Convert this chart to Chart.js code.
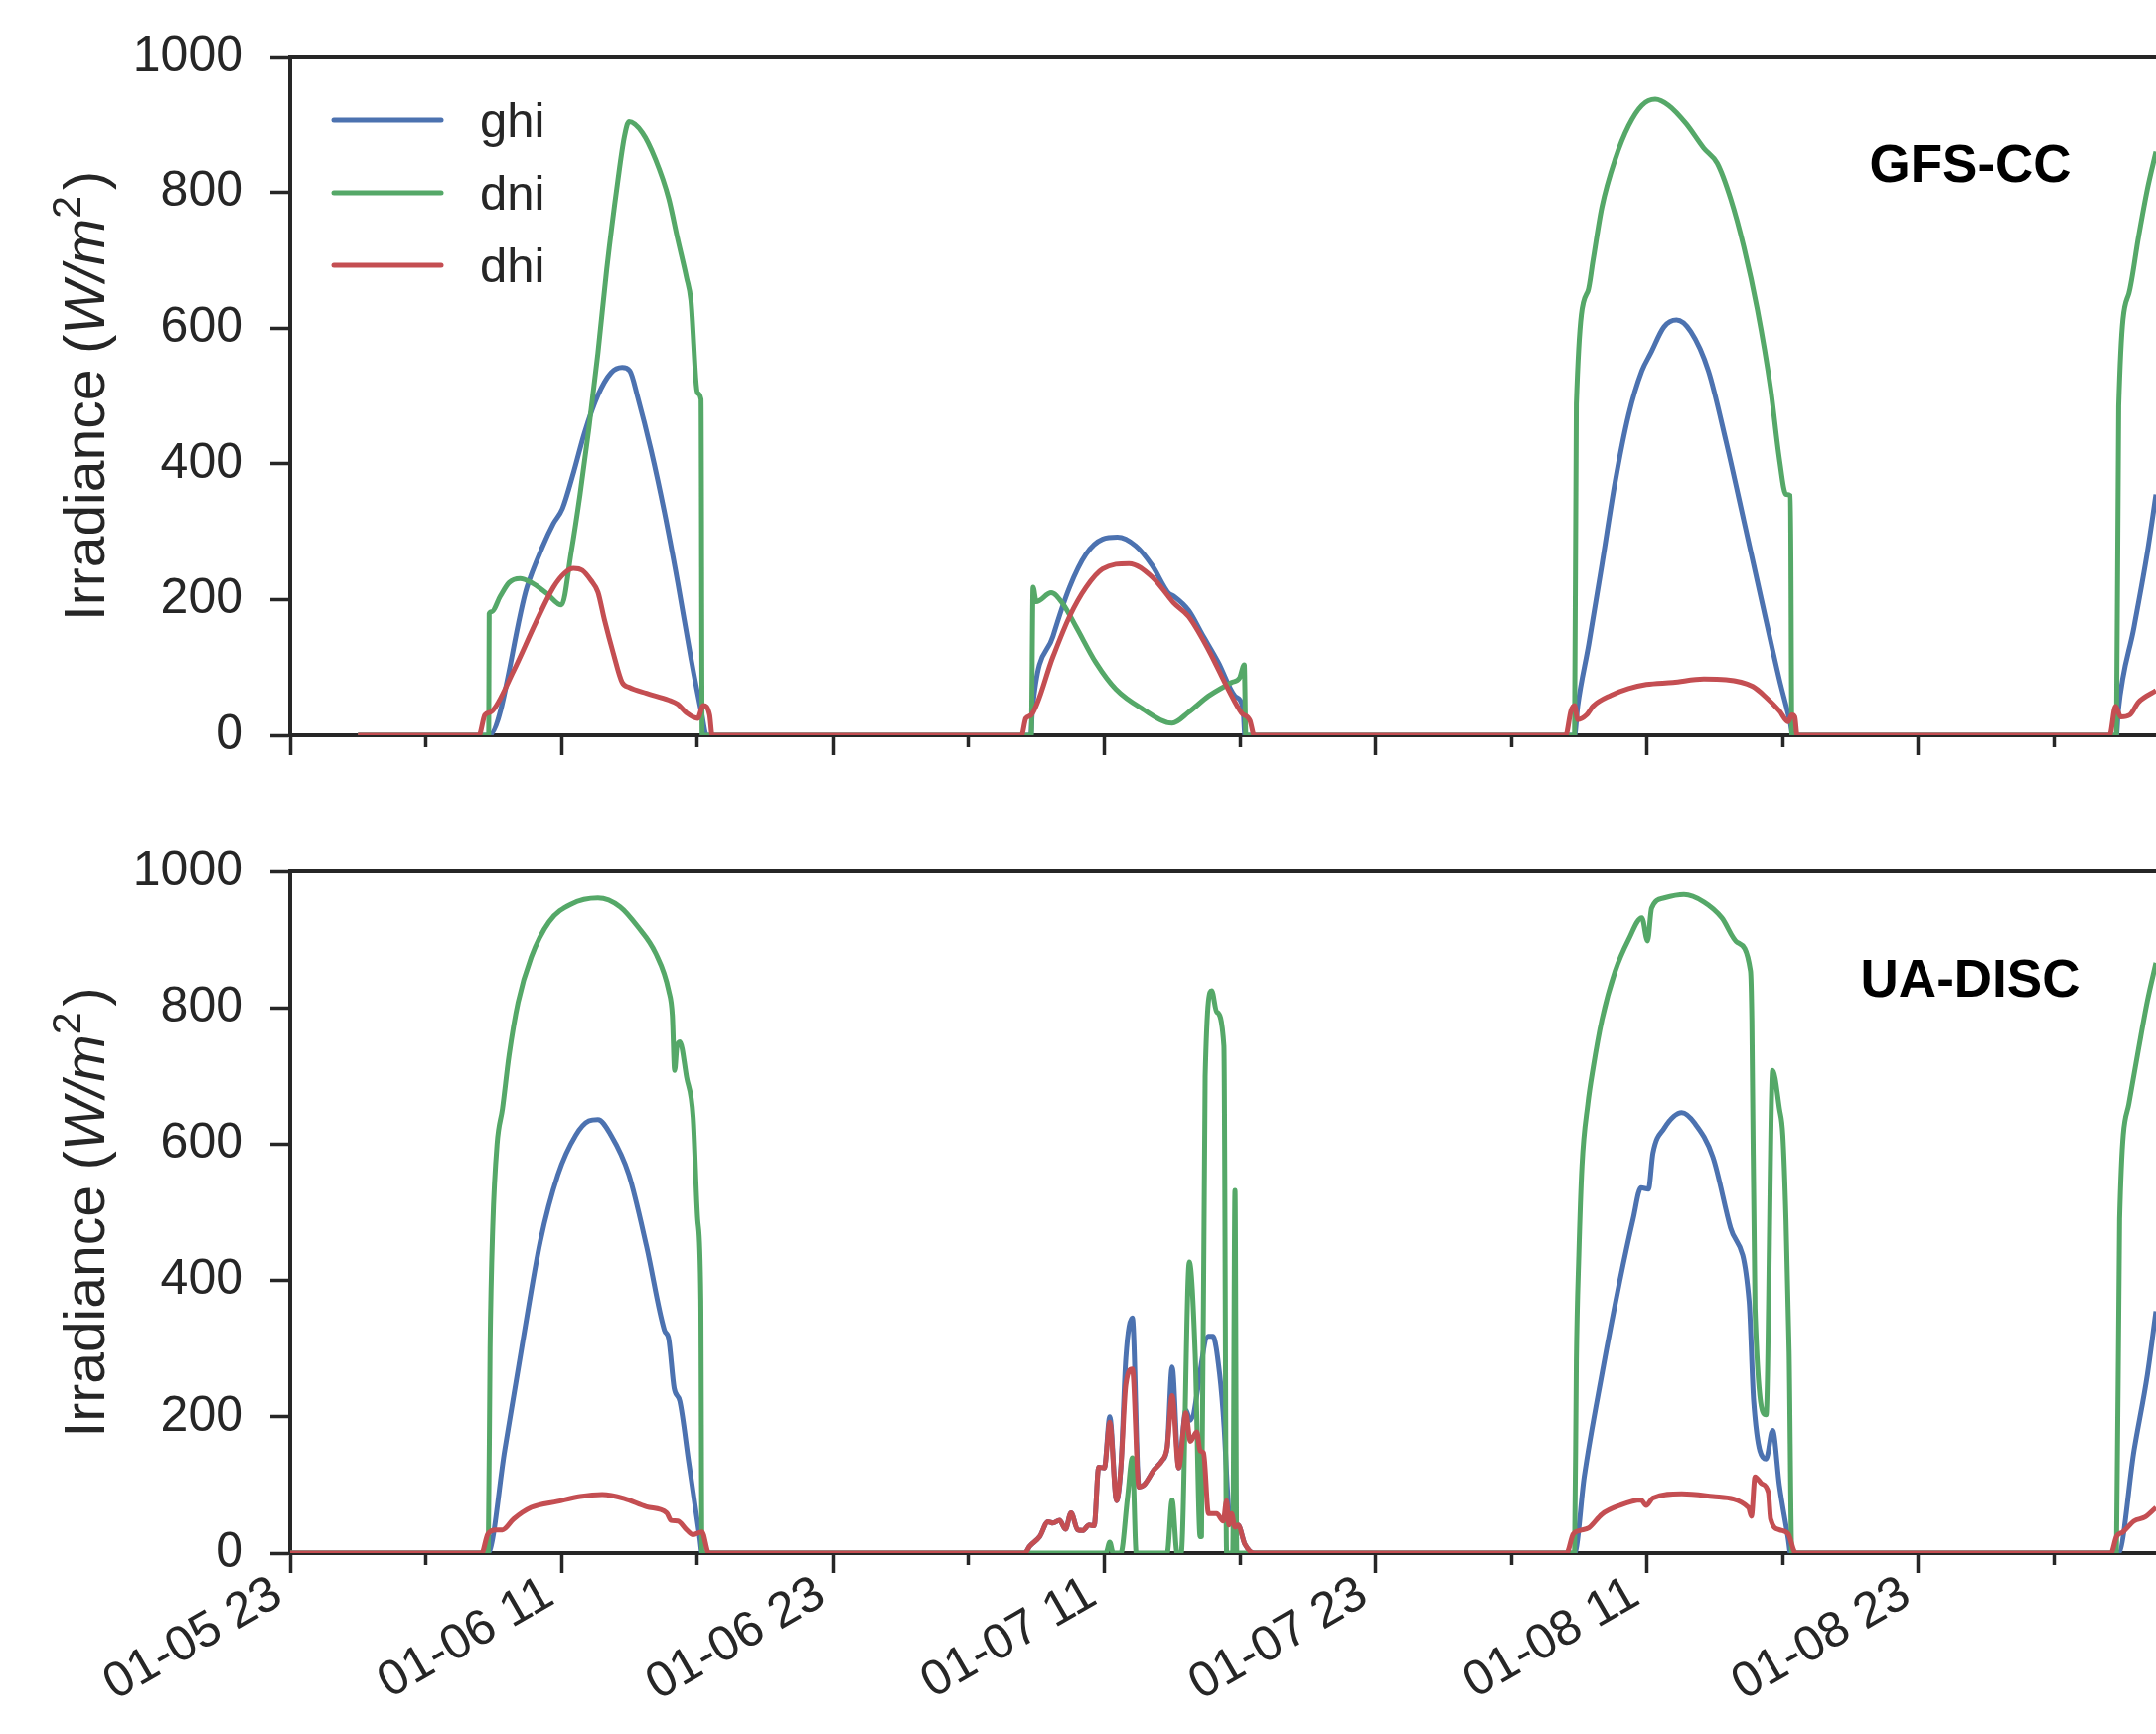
<!DOCTYPE html>
<html>
<head>
<meta charset="utf-8">
<title>Irradiance: GFS-CC vs UA-DISC</title>
<script src="https://cdn.jsdelivr.net/npm/chart.js@4.4.1/dist/chart.umd.min.js"></script>
<style>
  html, body { margin: 0; padding: 0; background: #fff; overflow: hidden; }
  canvas { position: absolute; left: 0; }
</style>
</head>
<body>
<canvas id="gfs" width="2170" height="800" style="top:0"></canvas>
<canvas id="ua" width="2170" height="945" style="top:800px"></canvas>
<script>
// x values are hours after 01-05 23:00, y values are W/m^2

const seriesNames = ['ghi', 'dni', 'dhi'];
const xTickLabels = ['01-05 23', '01-06 11', '01-06 23', '01-07 11', '01-07 23', '01-08 11', '01-08 23'];
const panelLabels = ['GFS-CC', 'UA-DISC'];

// ── GFS-CC ────────────────────────────────────────────────
const gfsGhi = [
  [3, 0], [8.80, 0], [10.47, 218], [11.15, 277], [11.64, 312], [12.04, 334], [12.53, 387], [13.02, 446],
  [13.61, 501], [14.19, 534], [14.68, 542], [15.02, 537], [15.37, 498], [15.96, 420], [16.55, 329],
  [17.14, 225], [17.72, 114], [18.21, 30], [18.41, 0],
  [32.75, 0], [32.82, 38], [33.73, 146], [34.46, 218], [35.19, 267], [35.92, 289], [36.58, 292],
  [37.39, 279], [38.12, 250], [38.85, 209], [39.07, 205], [39.73, 184], [40.31, 150], [41.05, 107],
  [41.78, 58], [42.14, 39], [42.22, 0],
  [56.79, 0], [56.93, 43], [57.42, 134], [58.0, 251], [58.59, 374], [59.18, 472], [59.77, 537],
  [60.16, 563], [60.75, 602], [61.30, 612], [61.93, 595], [62.71, 537], [63.49, 433], [64.28, 316],
  [65.06, 199], [65.85, 82], [66.34, 17], [66.44, 0],
  [80.75, 0], [80.83, 36], [81.53, 160], [82.12, 270], [82.5, 355]
];
const gfsDni = [
  [3, 0], [8.78, 0], [8.80, 179], [8.90, 182], [9.29, 205], [9.68, 225], [10.17, 231], [10.66, 225],
  [11.35, 209], [12.0, 192], [12.43, 270], [12.82, 355], [13.21, 452], [13.61, 563], [14.0, 687],
  [14.49, 817], [14.78, 882], [14.98, 904], [15.57, 888], [16.15, 849], [16.74, 791], [17.13, 732],
  [17.53, 674], [17.72, 641], [18.02, 504], [18.17, 495], [18.22, 0],
  [32.77, 0], [32.85, 218], [32.99, 197], [33.65, 210], [34.16, 194], [34.75, 160], [35.63, 107],
  [36.51, 68], [37.68, 39], [39.0, 18], [39.73, 34], [40.61, 58], [41.63, 78], [41.99, 85],
  [42.19, 104], [42.26, 0],
  [56.79, 0], [56.87, 488], [57.38, 654], [57.61, 700], [58.0, 778], [58.59, 849], [59.18, 898],
  [59.77, 928], [60.36, 937], [60.95, 928], [61.73, 901], [62.51, 865], [63.1, 843], [63.69, 791],
  [64.28, 719], [64.87, 628], [65.46, 511], [65.85, 407], [66.14, 355], [66.34, 353], [66.4, 0],
  [80.75, 0], [80.85, 485], [81.30, 651], [81.73, 735], [82.12, 805], [82.5, 860]
];
const gfsDhi = [
  [3, 0], [8.35, 0], [8.61, 30], [8.90, 35], [9.88, 95], [10.86, 166], [11.64, 218], [12.14, 239],
  [12.53, 246], [12.92, 243], [13.31, 228], [13.61, 211], [13.90, 170], [14.29, 121], [14.68, 78],
  [14.98, 71], [15.76, 62], [16.74, 52], [17.13, 46], [17.53, 33], [18.02, 25], [18.27, 44],
  [18.55, 30], [18.66, 0],
  [32.34, 0], [32.53, 25], [32.77, 30], [33.73, 116], [34.46, 175], [35.19, 218], [35.92, 245],
  [37.09, 253], [38.12, 233], [38.85, 204], [39.07, 195], [39.73, 175], [40.61, 126], [41.48, 68],
  [42.07, 33], [42.44, 22], [42.63, 0],
  [56.4, 0], [56.63, 36], [56.79, 44], [56.93, 23], [57.32, 30], [57.61, 43], [58.4, 59], [59.18, 69],
  [59.97, 75], [61.14, 78], [62.51, 83], [63.49, 82], [64.67, 72], [65.26, 56], [65.85, 36],
  [66.24, 20], [66.4, 30], [66.53, 27], [66.63, 0],
  [80.45, 0], [80.71, 43], [80.94, 27], [81.34, 30], [81.73, 49], [82.5, 66]
];

// ── UA-DISC ───────────────────────────────────────────────
const uaGhi = [
  [0, 0], [8.74, 0], [9.49, 151], [10.27, 307], [11.06, 457], [11.84, 555], [12.63, 613], [13.21, 634],
  [13.61, 636], [14.19, 613], [14.98, 555], [15.76, 450], [16.55, 327], [16.74, 314], [16.98, 242],
  [17.23, 223], [17.63, 132], [18.12, 21], [18.21, 0],
  [32.48, 0], [32.7, 10], [33.14, 24], [33.51, 46], [33.73, 44], [34.02, 48], [34.28, 35], [34.53, 59],
  [34.82, 34], [35.04, 33], [35.33, 41], [35.55, 40], [35.75, 126], [36.0, 125], [36.24, 200],
  [36.54, 77], [36.73, 125], [36.95, 286], [37.24, 345], [37.53, 97], [37.75, 100], [38.19, 122],
  [38.56, 136], [38.78, 155], [39.0, 273], [39.29, 125], [39.61, 210], [39.8, 195], [40.6, 318],
  [40.8, 318], [41.1, 263], [41.3, 185], [41.45, 90], [41.55, 50], [41.63, 58], [41.78, 38],
  [41.92, 41], [42.22, 13], [42.65, 0],
  [56.79, 0], [57.22, 112], [58.0, 262], [58.79, 399], [59.38, 490], [59.73, 536], [60.06, 534],
  [60.26, 587], [60.75, 623], [61.53, 646], [62.12, 630], [62.91, 581], [63.69, 477], [64.51, 369],
  [64.71, 223], [65.26, 138], [65.55, 180], [65.85, 99], [66.24, 21], [66.34, 0],
  [80.83, 0], [81.53, 151], [82.12, 262], [82.5, 355]
];
const uaDni = [
  [0, 0], [8.76, 0], [8.84, 300], [8.96, 480], [9.15, 600], [9.39, 652], [9.68, 730], [10.08, 808],
  [10.66, 874], [11.45, 926], [12.43, 952], [13.61, 961], [14.59, 948], [15.37, 919], [16.16, 880],
  [16.74, 825], [16.9, 789], [17.0, 708], [17.1, 743], [17.23, 750], [17.53, 698], [17.82, 639],
  [18.02, 490], [18.16, 372], [18.21, 0],
  [36.07, 0], [36.24, 16], [36.39, 0], [36.73, 0], [37.02, 80], [37.24, 140], [37.41, 0], [38.78, 0],
  [39.0, 78], [39.22, 0], [39.4, 0], [39.76, 427], [40.02, 292], [40.24, 24], [40.3, 24], [40.46, 699],
  [40.75, 825], [40.97, 794], [41.29, 744], [41.41, 0], [41.68, 0], [41.78, 532], [41.86, 0],
  [56.79, 0], [56.87, 281], [56.98, 437], [57.12, 568], [57.38, 659], [57.61, 711], [58.0, 782],
  [58.59, 854], [59.18, 900], [59.77, 932], [60.02, 898], [60.2, 946], [60.75, 961], [61.63, 966],
  [62.51, 955], [63.3, 932], [63.98, 896], [64.57, 854], [64.63, 782], [64.77, 359], [65.26, 203],
  [65.55, 708], [65.85, 652], [66.0, 613], [66.14, 490], [66.28, 294], [66.4, 0],
  [80.75, 0], [80.89, 490], [81.3, 659], [81.73, 740], [82.12, 810], [82.5, 866]
];
const uaDhi = [
  [0, 0], [8.47, 0], [8.74, 28], [9.1, 34], [9.39, 34], [9.88, 50], [10.66, 67], [11.84, 76],
  [12.82, 83], [13.8, 86], [14.78, 80], [15.76, 68], [16.65, 59], [16.84, 48], [17.14, 47],
  [17.53, 34], [17.82, 27], [18.21, 31], [18.51, 0],
  [32.48, 0], [32.7, 10], [33.14, 24], [33.51, 46], [33.73, 44], [34.02, 48], [34.28, 35], [34.53, 59],
  [34.82, 34], [35.04, 33], [35.33, 41], [35.55, 40], [35.75, 126], [36.0, 125], [36.24, 192],
  [36.54, 77], [36.73, 125], [36.95, 247], [37.24, 270], [37.53, 97], [37.75, 100], [38.19, 122],
  [38.56, 136], [38.78, 155], [39.0, 231], [39.29, 125], [39.61, 206], [39.8, 164], [40.09, 178],
  [40.24, 150], [40.39, 147], [40.61, 58], [40.97, 58], [41.26, 47], [41.41, 77], [41.51, 41],
  [41.63, 58], [41.78, 38], [41.92, 41], [42.22, 13], [42.65, 0],
  [56.44, 0], [56.73, 28], [57.02, 33], [57.42, 37], [58.0, 57], [58.79, 70], [59.73, 78], [59.96, 70],
  [60.26, 81], [61.53, 87], [62.91, 83], [64.48, 67], [64.61, 54], [64.77, 112], [65.06, 102],
  [65.36, 89], [65.46, 50], [65.85, 34], [66.24, 28], [66.57, 0],
  [80.51, 0], [80.75, 24], [81.04, 31], [81.53, 47], [82.02, 53], [82.5, 67]
];

// ── Style ─────────────────────────────────────────────────
const FONT = '"Liberation Sans", Arial, Helvetica, sans-serif';
const INK = '#262626';
const lineColors = ['#4C72B0', '#55A868', '#C44E52'];

Chart.defaults.font.family = FONT;
Chart.defaults.color = INK;

// y-axis title with math part, panel label and in-axes legend
const decor = {
  id: 'decor',
  afterDraw(chart, args, opts) {
    const { ctx, chartArea: a } = chart;
    ctx.save();

    // Irradiance (W/m^2), rotated
    const parts = [
      { t: 'Irradiance (', f: `57px ${FONT}`, dy: 0 },
      { t: 'W/m', f: `italic 57px ${FONT}`, dy: 0 },
      { t: '2', f: `41px ${FONT}`, dy: -24 },
      { t: ')', f: `57px ${FONT}`, dy: 0, gap: 6 },
    ];
    let total = 0;
    parts.forEach(p => { ctx.font = p.f; p.w = ctx.measureText(p.t).width; total += p.w + (p.gap || 0); });
    ctx.translate(105, (a.top + a.bottom) / 2);
    ctx.rotate(-Math.PI / 2);
    ctx.fillStyle = INK;
    ctx.textBaseline = 'alphabetic';
    ctx.textAlign = 'left';
    let x = -total / 2;
    parts.forEach(p => {
      x += p.gap || 0;
      ctx.font = p.f;
      ctx.fillText(p.t, x, p.dy);
      x += p.w;
    });
    ctx.restore();

    ctx.save();
    ctx.font = `bold 53px ${FONT}`;
    ctx.fillStyle = '#000';
    ctx.textAlign = 'center';
    ctx.textBaseline = 'alphabetic';
    ctx.fillText(opts.label, 1983, a.top + 126);

    if (opts.legend) {
      chart.data.datasets.forEach((ds, i) => {
        const y = a.top + 64 + i * 73;
        ctx.strokeStyle = ds.borderColor;
        ctx.lineWidth = 5;
        ctx.lineCap = 'round';
        ctx.beginPath();
        ctx.moveTo(a.left + 44, y);
        ctx.lineTo(a.left + 152, y);
        ctx.stroke();
        ctx.font = `49px ${FONT}`;
        ctx.fillStyle = INK;
        ctx.textAlign = 'left';
        ctx.fillText(ds.label, a.left + 191, y + 17);
      });
    }
    ctx.restore();
  },
};

function buildPanel(canvasId, series, o) {
  return new Chart(document.getElementById(canvasId), {
    type: 'line',
    data: {
      datasets: seriesNames.map((name, i) => ({
        label: name,
        data: series[i].map(([x, y]) => ({ x, y })),
        borderColor: lineColors[i],
        backgroundColor: lineColors[i],
        borderWidth: 5,
        borderJoinStyle: 'round',
        cubicInterpolationMode: 'monotone',
        pointRadius: 0,
        fill: false,
        order: 2 - i,
      })),
    },
    options: {
      responsive: false,
      animation: false,
      events: [],
      devicePixelRatio: 1,
      layout: { autoPadding: false, padding: { top: o.top, left: 0, right: 0, bottom: 0 } },
      plugins: {
        legend: { display: false },
        tooltip: { enabled: false },
        decor: { label: o.label, legend: o.legend },
      },
      scales: {
        x: {
          type: 'linear',
          min: 0,
          max: 82.5,
          afterBuildTicks: s => { s.ticks = s.ticks.filter(t => t.value % 6 === 0); },
          afterFit: s => { s.height = o.xHeight; },
          grid: {
            drawOnChartArea: false,
            tickLength: 20,
            tickWidth: 3.5,
            tickColor: INK,
            tickBorderDash: c => (c.tick && c.tick.value % 12 !== 0) ? [10, 100] : [],
          },
          border: { color: INK, width: 4 },
          ticks: {
            display: o.xLabels,
            stepSize: 6,
            autoSkip: false,
            minRotation: 30,
            maxRotation: 30,
            padding: -4,
            labelOffset: -12,
            color: INK,
            font: { size: 50, lineHeight: 1 },
            callback: v => (v % 12 === 0 ? (xTickLabels[v / 12] || '') : ''),
          },
        },
        xt: {
          type: 'linear',
          axis: 'x',
          position: 'top',
          min: 0,
          max: 82.5,
          afterFit: s => { s.height = 0; },
          grid: { display: false, drawTicks: false },
          ticks: { display: false },
          border: { color: INK, width: 4 },
        },
        y: {
          min: 0,
          max: 1000,
          afterFit: s => { s.width = 292; },
          grid: { drawOnChartArea: false, tickLength: 20, tickWidth: 3.5, tickColor: INK },
          border: { color: INK, width: 4 },
          ticks: { stepSize: 200, padding: 27, color: INK, font: { size: 50 }, callback: v => String(v) },
        },
      },
    },
    plugins: [decor],
  });
}

buildPanel('gfs', [gfsGhi, gfsDni, gfsDhi], { top: 54, xHeight: 60, xLabels: false, label: panelLabels[0], legend: true });
buildPanel('ua', [uaGhi, uaDni, uaDhi], { top: 77, xHeight: 182, xLabels: true, label: panelLabels[1], legend: false });
</script>
</body>
</html>
